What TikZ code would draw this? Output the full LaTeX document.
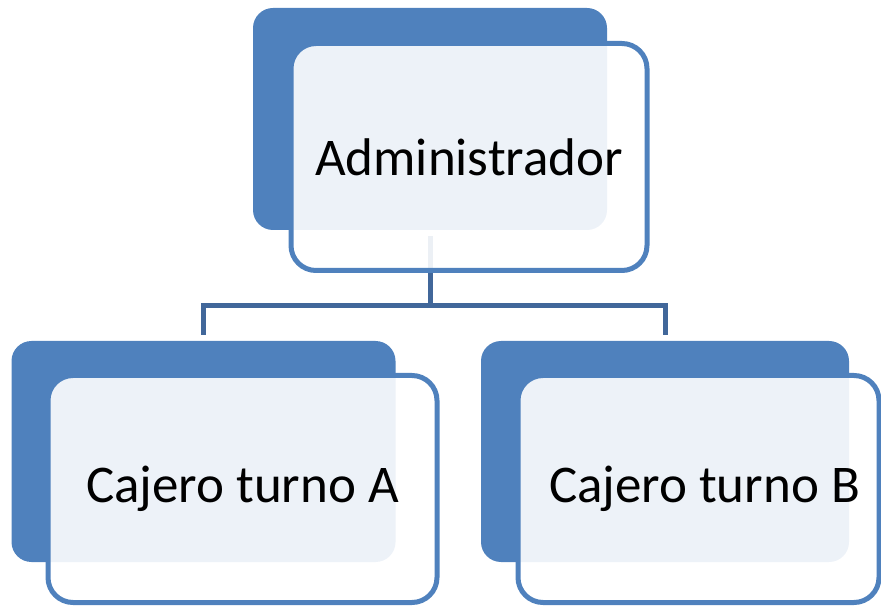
\documentclass[tikz,border=0pt]{standalone}
\usepackage{fontspec}
\setmainfont{Carlito}
\usepackage{tikz}
\usetikzlibrary{backgrounds}
\definecolor{boxblue}{HTML}{4F81BD}
\definecolor{lineblue}{HTML}{41679A}
\tikzstyle{back} = [rectangle, rounded corners=20pt, fill=boxblue, draw=none, minimum height=221pt]
\tikzstyle{front} = [rectangle, rounded corners=25pt, draw=boxblue, line width=5pt, fill=white, fill opacity=0.9, text opacity=1, minimum height=227pt, font=\fontsize{53}{60}\selectfont]
\tikzstyle{conn} = [lineblue, line width=5pt]

\begin{document}
\begin{tikzpicture}[x=1pt, y=-1pt]
        \useasboundingbox (0,0) rectangle (881,609);
        \node (admback) [back, minimum width=354pt, minimum height=222pt] at (430,119) {};
        \node (admfront) [front, minimum width=356pt, xshift=39pt, yshift=-38pt] at (admback) {Administrador};
        \node (cajaback) [back, minimum width=384pt] at (203.5,451.5) {};
        \node (cajafront) [front, minimum width=389pt, xshift=39pt, yshift=-37.5pt] at (cajaback) {Cajero turno A};
        \node (cajbback) [back, minimum width=368pt] at (665,451.5) {};
        \node (cajbfront) [front, minimum width=361pt, xshift=33.5pt, yshift=-37.5pt] at (cajbback) {\hspace*{12pt}Cajero turno B};
        \path (admback.south) -- ++(0,75) coordinate (split);
        \begin{scope}[on background layer]
            \draw [conn, shorten <=6pt] (admback.south) -- (split);
            \draw [conn, shorten <=6pt, shorten >=6pt] (cajaback.north) |- (split) -| (cajbback.north);
        \end{scope}
    \end{tikzpicture}
\end{document}
